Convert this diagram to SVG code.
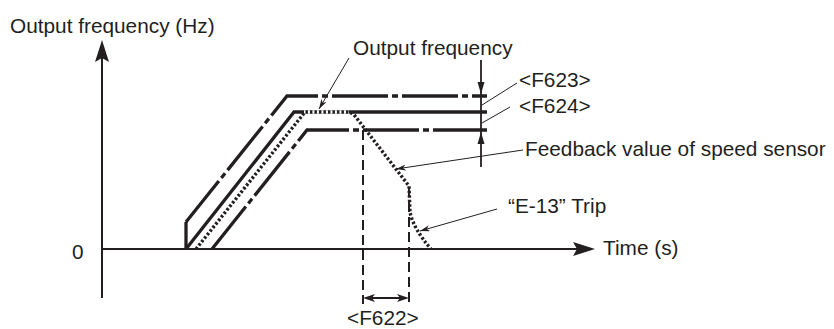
<svg xmlns="http://www.w3.org/2000/svg" width="834" height="329" viewBox="0 0 834 329">
<defs>
<style>
text{font-family:"Liberation Sans",Arial,Helvetica,sans-serif;font-size:20.8px;fill:#231f20}
.thick{fill:none;stroke:#231f20;stroke-width:3.3}
.dashdot{stroke-dasharray:56 4 6 4}
.dot{fill:none;stroke:#231f20;stroke-width:3.4;stroke-dasharray:2.5 2}
.axis{stroke:#231f20;stroke-width:2;fill:none}
.lead{stroke:#231f20;stroke-width:1;fill:none}
.dash{stroke:#231f20;stroke-width:2;fill:none;stroke-dasharray:10 5}
.head{fill:#231f20}
</style>
<marker id="la" markerUnits="userSpaceOnUse" markerWidth="12" markerHeight="8" refX="10" refY="3" orient="auto"><path d="M0,0 L10,3 L0,6 L3,3 Z" fill="#231f20"/></marker>
</defs>
<rect width="834" height="329" fill="#fff"/>
<g id="y-axis"><line x1="102" y1="58" x2="102" y2="298" class="axis"/><path d="M102,40 L109,62 L102,58 L95,62 Z" class="head"/></g>
<g id="x-axis"><line x1="102" y1="249" x2="580" y2="249" class="axis"/><path d="M595,249 L573,242 L577,249 L573,256 Z" class="head"/></g>
<g id="curve-f623">
<path class="thick" d="M186,250 L186,222"/>
<path class="thick dashdot" stroke-dashoffset="41" d="M487,96 L287,96 L186,222"/>
</g>
<g id="curve-output"><path class="thick" d="M186,249 L294,112 L487,112"/></g>
<g id="curve-f624"><path class="thick dashdot" stroke-dashoffset="2" d="M487,130 L307,130 L212,249"/></g>
<g id="curve-feedback">
<line x1="304" y1="112" x2="349" y2="112" stroke="#fff" stroke-width="3.3"/>
<path class="dot" d="M196,249 L305,112 L347,112 Q352,112 355,116 L409,186 L410,212 Q413,228 431,249"/>
</g>
<g id="dimension-level">
<line x1="481" y1="60" x2="481" y2="167" stroke="#231f20" stroke-width="1.8"/>
<path class="head" d="M481,94 L477.5,82 L484.5,82 Z"/>
<path class="head" d="M481,132 L477.5,144 L484.5,144 Z"/>
</g>
<g id="dimension-f622">
<line class="dash" x1="363" y1="130" x2="363" y2="304"/>
<line class="dash" x1="409" y1="187" x2="409" y2="302"/>
<line x1="372" y1="298" x2="400" y2="298" stroke="#231f20" stroke-width="2"/>
<path class="head" d="M363,298 L375,294 L372,298 L375,302 Z"/>
<path class="head" d="M409,298 L397,294 L400,298 L397,302 Z"/>
</g>
<g id="connectors">
<line class="lead" x1="517" y1="83" x2="482" y2="105"/>
<line class="lead" x1="510" y1="107" x2="482" y2="123"/>
<line class="lead" x1="523" y1="150" x2="396" y2="169" marker-end="url(#la)"/>
<line class="lead" x1="497" y1="209" x2="420" y2="231" marker-end="url(#la)"/>
<line class="lead" x1="349" y1="58" x2="319" y2="109" marker-end="url(#la)"/>
</g>
<g id="labels">
<text x="10" y="33">Output frequency (Hz)</text>
<text x="353" y="55">Output frequency</text>
<text x="519" y="87">&lt;F623&gt;</text>
<text x="519" y="113">&lt;F624&gt;</text>
<text x="525" y="156">Feedback value of speed sensor</text>
<text x="508" y="213">“E-13” Trip</text>
<text x="603" y="255">Time (s)</text>
<text x="72" y="259">0</text>
<text x="347" y="325">&lt;F622&gt;</text>
</g>
</svg>
